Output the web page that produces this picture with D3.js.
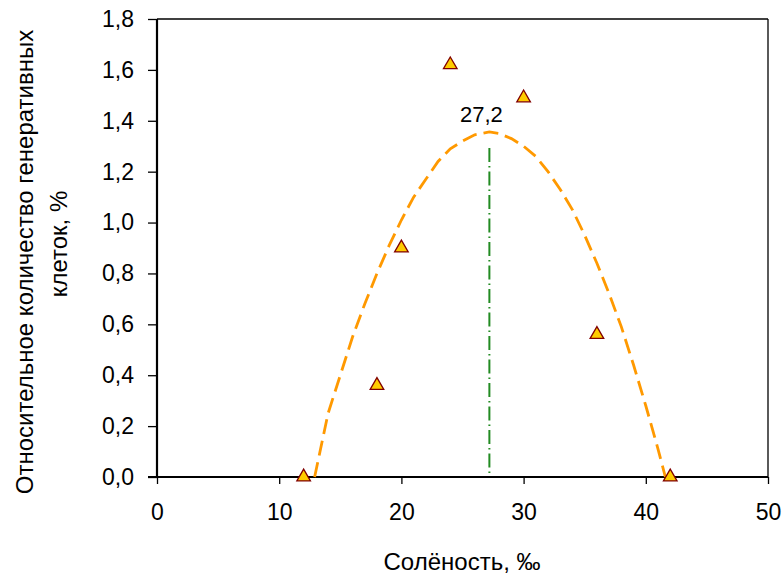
<!DOCTYPE html>
<html>
<head>
<meta charset="utf-8">
<script src="https://cdn.jsdelivr.net/npm/d3@7"></script>
<style>
  body { margin: 0; background: #fff; }
  text { font-family: "Liberation Sans", Arial, sans-serif; fill: #000; }
</style>
</head>
<body>
<div id="chart"></div>
<script>
// measured points
const salinity = [12, 18, 20, 24, 30, 36, 42];
const cellShare = [0, 0.36, 0.90, 1.62, 1.49, 0.56, 0];

// fitted curve
const curveX = [12.9, 14, 15, 16, 17, 18, 19, 20, 21, 22, 23, 24, 25, 26, 27.2, 28, 29, 30, 31, 32, 33, 34, 35, 36, 37, 38, 39, 40, 41, 41.6];
const curveY = [0, 0.25, 0.40, 0.55, 0.68, 0.80, 0.91, 1.01, 1.10, 1.17, 1.24, 1.29, 1.32, 1.345, 1.356, 1.35, 1.33, 1.30, 1.26, 1.20, 1.13, 1.05, 0.95, 0.84, 0.72, 0.59, 0.44, 0.28, 0.11, 0];

const optimum = 27.2;
const optimumLabel = '27,2';

const xTicks = [0, 10, 20, 30, 40, 50];
const yTicks = [0, 0.2, 0.4, 0.6, 0.8, 1.0, 1.2, 1.4, 1.6, 1.8];

const config = {
  width: 784,
  height: 576,
  margin: { top: 19, right: 16, bottom: 99, left: 157 },
  tickFont: 23,
  titleFont: 24,
};

const width = config.width - config.margin.left - config.margin.right;
const height = config.height - config.margin.top - config.margin.bottom;

const svg = d3.select('#chart').append('svg')
  .attr('width', config.width)
  .attr('height', config.height);

const chartArea = svg.append('g')
  .attr('transform', `translate(${config.margin.left},${config.margin.top})`);

const x = d3.scaleLinear().domain([0, 50]).range([0, width]);
const y = d3.scaleLinear().domain([0, 1.8]).range([height, 0]);

/* frame (top & right) */
chartArea.append('line')
  .attr('x1', 0).attr('x2', width).attr('y1', 0).attr('y2', 0)
  .attr('stroke', '#000').attr('stroke-width', 1.3);
chartArea.append('line')
  .attr('x1', width).attr('x2', width).attr('y1', 0).attr('y2', height)
  .attr('stroke', '#000').attr('stroke-width', 1.3);

/* axes */
const xAxis = d3.axisBottom(x).tickValues(xTicks).tickSize(7).tickPadding(20)
  .tickFormat((d) => String(d));
const yAxis = d3.axisLeft(y).tickValues(yTicks).tickSize(9).tickPadding(14)
  .tickFormat((d) => d.toFixed(1).replace('.', ','));

const gx = chartArea.append('g')
  .attr('transform', `translate(0,${height})`)
  .call(xAxis);
const gy = chartArea.append('g').call(yAxis);

[gx, gy].forEach((g) => {
  g.select('.domain').attr('stroke', '#000').attr('stroke-width', 2.2);
  g.selectAll('.tick line').attr('stroke', '#000').attr('stroke-width', 1.3);
  g.selectAll('.tick text')
    .attr('font-size', config.tickFont)
    .attr('font-family', '"Liberation Sans", Arial, sans-serif')
    .attr('fill', '#000');
});
gx.select('.domain').attr('d', `M-9,0H${width}`);
gy.select('.domain').attr('d', `M0,0V${height}`);

/* fitted curve */
const curve = curveX.map((d, i) => ({ x: d, y: curveY[i] }));
chartArea.append('path')
  .datum(curve)
  .attr('fill', 'none')
  .attr('stroke', '#FF9900')
  .attr('stroke-width', 2.8)
  .attr('stroke-dasharray', '15,7')
  .attr('d', d3.line().x((d) => x(d.x)).y((d) => y(d.y)));

/* optimum line */
const peak = d3.max(curveY);
chartArea.append('line')
  .attr('x1', x(optimum)).attr('x2', x(optimum))
  .attr('y1', y(peak) + 16).attr('y2', height)
  .attr('stroke', '#228B22')
  .attr('stroke-width', 2)
  .attr('stroke-dasharray', '14,4,1.5,4');

chartArea.append('text')
  .attr('x', x(optimum) - 8)
  .attr('y', y(peak) - 10)
  .attr('text-anchor', 'middle')
  .attr('font-size', 22)
  .text(optimumLabel);

/* points */
const tri = d3.symbol().type(d3.symbolTriangle).size(80);
chartArea.selectAll('.pt')
  .data(salinity.map((d, i) => ({ x: d, y: cellShare[i] })))
  .join('path')
  .attr('class', 'pt')
  .attr('transform', (d) => `translate(${x(d.x)},${y(d.y)})`)
  .attr('d', tri)
  .attr('fill', '#FFCC00')
  .attr('stroke', '#800000')
  .attr('stroke-width', 1.3);

/* axis titles */
svg.append('text')
  .attr('x', 462)
  .attr('y', 570)
  .attr('text-anchor', 'middle')
  .attr('font-size', config.titleFont)
  .text('Солёность, ‰');

svg.append('text')
  .attr('transform', 'translate(33,262) rotate(-90)')
  .attr('text-anchor', 'middle')
  .attr('font-size', config.titleFont)
  .text('Относительное количество генеративных');
svg.append('text')
  .attr('transform', 'translate(67,244) rotate(-90)')
  .attr('text-anchor', 'middle')
  .attr('font-size', config.titleFont)
  .text('клеток, %');
</script>
</body>
</html>
